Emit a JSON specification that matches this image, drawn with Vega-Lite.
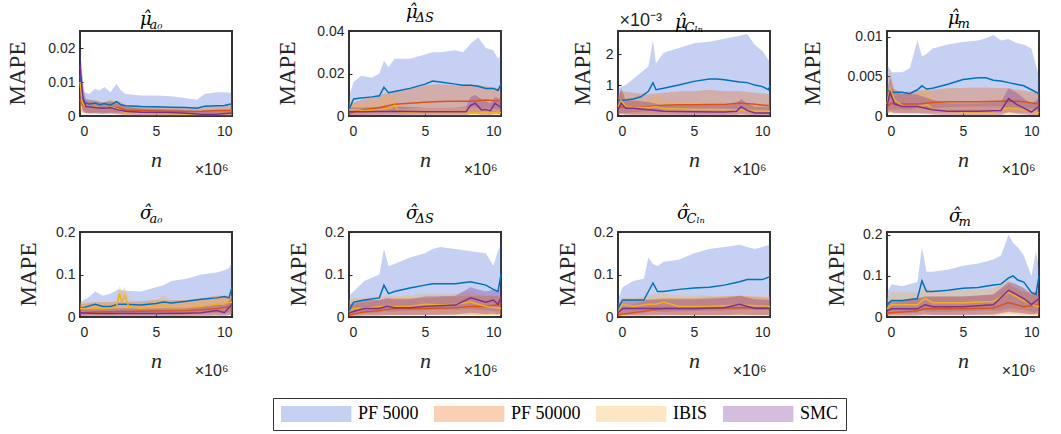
{
  "$schema": "https://vega.github.io/schema/vega-lite/v6.json",
  "background": "white",
  "padding": {"left": 5, "top": 3, "right": 5, "bottom": 3},
  "bounds": "flush",
  "columns": 4,
  "spacing": {"row": 116, "column": 117},
  "data": {"values": [
    {"p":1,"s":"PF 5000","x":0,"y":0.012,"lo":0.004,"hi":0.020},
    {"p":1,"s":"PF 5000","x":0.15,"y":0.006,"lo":0.002,"hi":0.012},
    {"p":1,"s":"PF 5000","x":0.3,"y":0.004,"lo":0.001,"hi":0.007},
    {"p":1,"s":"PF 5000","x":0.6,"y":0.0035,"lo":0.0008,"hi":0.0065},
    {"p":1,"s":"PF 5000","x":1,"y":0.0038,"lo":0.001,"hi":0.008},
    {"p":1,"s":"PF 5000","x":1.3,"y":0.0033,"lo":0.001,"hi":0.0075},
    {"p":1,"s":"PF 5000","x":1.6,"y":0.0037,"lo":0.001,"hi":0.0085},
    {"p":1,"s":"PF 5000","x":2,"y":0.0032,"lo":0.001,"hi":0.007},
    {"p":1,"s":"PF 5000","x":2.4,"y":0.0042,"lo":0.001,"hi":0.0095},
    {"p":1,"s":"PF 5000","x":2.7,"y":0.0033,"lo":0.001,"hi":0.0075},
    {"p":1,"s":"PF 5000","x":3,"y":0.003,"lo":0.001,"hi":0.0065},
    {"p":1,"s":"PF 5000","x":4,"y":0.0028,"lo":0.0008,"hi":0.006},
    {"p":1,"s":"PF 5000","x":5,"y":0.0027,"lo":0.0008,"hi":0.006},
    {"p":1,"s":"PF 5000","x":6,"y":0.0026,"lo":0.0008,"hi":0.0058},
    {"p":1,"s":"PF 5000","x":7,"y":0.0025,"lo":0.0006,"hi":0.0052},
    {"p":1,"s":"PF 5000","x":7.7,"y":0.0023,"lo":0.0005,"hi":0.0048},
    {"p":1,"s":"PF 5000","x":8.2,"y":0.0029,"lo":0.0007,"hi":0.0065},
    {"p":1,"s":"PF 5000","x":9,"y":0.003,"lo":0.0008,"hi":0.007},
    {"p":1,"s":"PF 5000","x":9.5,"y":0.0031,"lo":0.0008,"hi":0.007},
    {"p":1,"s":"PF 5000","x":10,"y":0.0036,"lo":0.001,"hi":0.0068},
    {"p":1,"s":"PF 50000","x":0,"y":0.005,"lo":0.001,"hi":0.012},
    {"p":1,"s":"PF 50000","x":0.15,"y":0.0035,"lo":0.001,"hi":0.006},
    {"p":1,"s":"PF 50000","x":0.3,"y":0.0028,"lo":0.0008,"hi":0.0045},
    {"p":1,"s":"PF 50000","x":1,"y":0.0025,"lo":0.0008,"hi":0.004},
    {"p":1,"s":"PF 50000","x":2,"y":0.0024,"lo":0.0007,"hi":0.004},
    {"p":1,"s":"PF 50000","x":2.5,"y":0.0026,"lo":0.0008,"hi":0.0045},
    {"p":1,"s":"PF 50000","x":3,"y":0.0018,"lo":0.0005,"hi":0.0033},
    {"p":1,"s":"PF 50000","x":5,"y":0.0015,"lo":0.0004,"hi":0.0028},
    {"p":1,"s":"PF 50000","x":7,"y":0.0013,"lo":0.0004,"hi":0.0026},
    {"p":1,"s":"PF 50000","x":8,"y":0.0014,"lo":0.0004,"hi":0.0028},
    {"p":1,"s":"PF 50000","x":9,"y":0.0016,"lo":0.0004,"hi":0.003},
    {"p":1,"s":"PF 50000","x":10,"y":0.0017,"lo":0.0005,"hi":0.0032},
    {"p":1,"s":"IBIS","x":0,"y":0.010,"lo":0.002,"hi":0.014},
    {"p":1,"s":"IBIS","x":0.15,"y":0.004,"lo":0.001,"hi":0.006},
    {"p":1,"s":"IBIS","x":0.3,"y":0.003,"lo":0.0008,"hi":0.005},
    {"p":1,"s":"IBIS","x":0.6,"y":0.0025,"lo":0.0007,"hi":0.0045},
    {"p":1,"s":"IBIS","x":1,"y":0.0028,"lo":0.0008,"hi":0.005},
    {"p":1,"s":"IBIS","x":1.5,"y":0.002,"lo":0.0006,"hi":0.004},
    {"p":1,"s":"IBIS","x":2,"y":0.0027,"lo":0.0008,"hi":0.005},
    {"p":1,"s":"IBIS","x":2.5,"y":0.002,"lo":0.0005,"hi":0.0042},
    {"p":1,"s":"IBIS","x":3,"y":0.0009,"lo":0.0002,"hi":0.0025},
    {"p":1,"s":"IBIS","x":5,"y":0.0007,"lo":0.0001,"hi":0.002},
    {"p":1,"s":"IBIS","x":7,"y":0.0006,"lo":0.0001,"hi":0.0018},
    {"p":1,"s":"IBIS","x":9,"y":0.0006,"lo":0.0001,"hi":0.0018},
    {"p":1,"s":"IBIS","x":10,"y":0.0007,"lo":0.0001,"hi":0.002},
    {"p":1,"s":"SMC","x":0,"y":0.015,"lo":0.004,"hi":0.020},
    {"p":1,"s":"SMC","x":0.1,"y":0.01,"lo":0.003,"hi":0.015},
    {"p":1,"s":"SMC","x":0.2,"y":0.005,"lo":0.0015,"hi":0.008},
    {"p":1,"s":"SMC","x":0.4,"y":0.0028,"lo":0.0008,"hi":0.005},
    {"p":1,"s":"SMC","x":1,"y":0.0025,"lo":0.0007,"hi":0.0045},
    {"p":1,"s":"SMC","x":1.5,"y":0.0022,"lo":0.0006,"hi":0.004},
    {"p":1,"s":"SMC","x":2,"y":0.0025,"lo":0.0007,"hi":0.0045},
    {"p":1,"s":"SMC","x":2.5,"y":0.0018,"lo":0.0005,"hi":0.0035},
    {"p":1,"s":"SMC","x":3,"y":0.0014,"lo":0.0004,"hi":0.0028},
    {"p":1,"s":"SMC","x":4,"y":0.0011,"lo":0.0003,"hi":0.0022},
    {"p":1,"s":"SMC","x":6,"y":0.001,"lo":0.0003,"hi":0.002},
    {"p":1,"s":"SMC","x":7,"y":0.0008,"lo":0.0002,"hi":0.0018},
    {"p":1,"s":"SMC","x":8,"y":0.0005,"lo":0.0001,"hi":0.0015},
    {"p":1,"s":"SMC","x":9,"y":0.0005,"lo":0.0001,"hi":0.0015},
    {"p":1,"s":"SMC","x":10,"y":0.0009,"lo":0.0002,"hi":0.0018},

    {"p":2,"s":"PF 5000","x":0,"y":0.003,"lo":0.0005,"hi":0.009},
    {"p":2,"s":"PF 5000","x":0.3,"y":0.008,"lo":0.002,"hi":0.016},
    {"p":2,"s":"PF 5000","x":0.8,"y":0.0085,"lo":0.002,"hi":0.019},
    {"p":2,"s":"PF 5000","x":1.5,"y":0.009,"lo":0.002,"hi":0.018},
    {"p":2,"s":"PF 5000","x":2,"y":0.0095,"lo":0.0025,"hi":0.020},
    {"p":2,"s":"PF 5000","x":2.3,"y":0.0135,"lo":0.003,"hi":0.026},
    {"p":2,"s":"PF 5000","x":2.6,"y":0.011,"lo":0.003,"hi":0.023},
    {"p":2,"s":"PF 5000","x":3,"y":0.0115,"lo":0.003,"hi":0.027},
    {"p":2,"s":"PF 5000","x":4,"y":0.013,"lo":0.0035,"hi":0.027},
    {"p":2,"s":"PF 5000","x":5,"y":0.015,"lo":0.004,"hi":0.029},
    {"p":2,"s":"PF 5000","x":5.5,"y":0.0165,"lo":0.004,"hi":0.030},
    {"p":2,"s":"PF 5000","x":6,"y":0.016,"lo":0.004,"hi":0.030},
    {"p":2,"s":"PF 5000","x":7,"y":0.015,"lo":0.004,"hi":0.031},
    {"p":2,"s":"PF 5000","x":7.5,"y":0.0145,"lo":0.004,"hi":0.030},
    {"p":2,"s":"PF 5000","x":8,"y":0.0145,"lo":0.004,"hi":0.034},
    {"p":2,"s":"PF 5000","x":8.5,"y":0.014,"lo":0.004,"hi":0.037},
    {"p":2,"s":"PF 5000","x":9,"y":0.013,"lo":0.0035,"hi":0.032},
    {"p":2,"s":"PF 5000","x":9.5,"y":0.013,"lo":0.0035,"hi":0.031},
    {"p":2,"s":"PF 5000","x":9.8,"y":0.012,"lo":0.003,"hi":0.027},
    {"p":2,"s":"PF 5000","x":10,"y":0.015,"lo":0.004,"hi":0.029},
    {"p":2,"s":"PF 50000","x":0,"y":0.001,"lo":0.0002,"hi":0.005},
    {"p":2,"s":"PF 50000","x":0.5,"y":0.0025,"lo":0.0005,"hi":0.007},
    {"p":2,"s":"PF 50000","x":1,"y":0.003,"lo":0.0005,"hi":0.008},
    {"p":2,"s":"PF 50000","x":2,"y":0.004,"lo":0.0008,"hi":0.010},
    {"p":2,"s":"PF 50000","x":3,"y":0.0055,"lo":0.001,"hi":0.012},
    {"p":2,"s":"PF 50000","x":4,"y":0.006,"lo":0.001,"hi":0.013},
    {"p":2,"s":"PF 50000","x":5,"y":0.0065,"lo":0.0012,"hi":0.0145},
    {"p":2,"s":"PF 50000","x":6,"y":0.0068,"lo":0.0012,"hi":0.015},
    {"p":2,"s":"PF 50000","x":7,"y":0.007,"lo":0.0012,"hi":0.0145},
    {"p":2,"s":"PF 50000","x":8,"y":0.007,"lo":0.0012,"hi":0.015},
    {"p":2,"s":"PF 50000","x":9,"y":0.0075,"lo":0.0012,"hi":0.014},
    {"p":2,"s":"PF 50000","x":10,"y":0.007,"lo":0.0012,"hi":0.013},
    {"p":2,"s":"IBIS","x":0,"y":0.003,"lo":0.0005,"hi":0.007},
    {"p":2,"s":"IBIS","x":0.5,"y":0.003,"lo":0.0005,"hi":0.006},
    {"p":2,"s":"IBIS","x":1,"y":0.0025,"lo":0.0004,"hi":0.006},
    {"p":2,"s":"IBIS","x":2,"y":0.003,"lo":0.0005,"hi":0.007},
    {"p":2,"s":"IBIS","x":2.5,"y":0.0035,"lo":0.0005,"hi":0.011},
    {"p":2,"s":"IBIS","x":2.8,"y":0.004,"lo":0.0006,"hi":0.008},
    {"p":2,"s":"IBIS","x":3,"y":0.005,"lo":0.0008,"hi":0.010},
    {"p":2,"s":"IBIS","x":3.3,"y":0.002,"lo":0.0003,"hi":0.005},
    {"p":2,"s":"IBIS","x":4,"y":0.0015,"lo":0.0002,"hi":0.004},
    {"p":2,"s":"IBIS","x":6,"y":0.0015,"lo":0.0002,"hi":0.004},
    {"p":2,"s":"IBIS","x":8,"y":0.0015,"lo":0.0002,"hi":0.0045},
    {"p":2,"s":"IBIS","x":10,"y":0.0015,"lo":0.0002,"hi":0.004},
    {"p":2,"s":"SMC","x":0,"y":0.002,"lo":0.0003,"hi":0.004},
    {"p":2,"s":"SMC","x":1,"y":0.002,"lo":0.0004,"hi":0.004},
    {"p":2,"s":"SMC","x":3,"y":0.0022,"lo":0.0004,"hi":0.0045},
    {"p":2,"s":"SMC","x":5,"y":0.002,"lo":0.0004,"hi":0.004},
    {"p":2,"s":"SMC","x":7,"y":0.002,"lo":0.0004,"hi":0.004},
    {"p":2,"s":"SMC","x":7.7,"y":0.002,"lo":0.0004,"hi":0.0045},
    {"p":2,"s":"SMC","x":8,"y":0.005,"lo":0.001,"hi":0.009},
    {"p":2,"s":"SMC","x":8.3,"y":0.006,"lo":0.0012,"hi":0.010},
    {"p":2,"s":"SMC","x":8.7,"y":0.003,"lo":0.0006,"hi":0.008},
    {"p":2,"s":"SMC","x":9,"y":0.003,"lo":0.0006,"hi":0.007},
    {"p":2,"s":"SMC","x":9.3,"y":0.0025,"lo":0.0005,"hi":0.006},
    {"p":2,"s":"SMC","x":9.6,"y":0.006,"lo":0.001,"hi":0.009},
    {"p":2,"s":"SMC","x":10,"y":0.004,"lo":0.0008,"hi":0.008},

    {"p":3,"s":"PF 5000","x":0,"y":0.5,"lo":0.1,"hi":0.9},
    {"p":3,"s":"PF 5000","x":0.5,"y":0.52,"lo":0.1,"hi":1.0},
    {"p":3,"s":"PF 5000","x":1,"y":0.55,"lo":0.12,"hi":1.2},
    {"p":3,"s":"PF 5000","x":1.5,"y":0.62,"lo":0.13,"hi":1.4},
    {"p":3,"s":"PF 5000","x":2,"y":0.8,"lo":0.15,"hi":1.6},
    {"p":3,"s":"PF 5000","x":2.3,"y":1.08,"lo":0.2,"hi":2.45},
    {"p":3,"s":"PF 5000","x":2.5,"y":0.85,"lo":0.18,"hi":1.7},
    {"p":3,"s":"PF 5000","x":3,"y":0.9,"lo":0.2,"hi":2.05},
    {"p":3,"s":"PF 5000","x":4,"y":1.0,"lo":0.2,"hi":2.2},
    {"p":3,"s":"PF 5000","x":5,"y":1.12,"lo":0.22,"hi":2.35},
    {"p":3,"s":"PF 5000","x":6,"y":1.2,"lo":0.24,"hi":2.4},
    {"p":3,"s":"PF 5000","x":6.5,"y":1.2,"lo":0.24,"hi":2.45},
    {"p":3,"s":"PF 5000","x":7,"y":1.17,"lo":0.24,"hi":2.5},
    {"p":3,"s":"PF 5000","x":8,"y":1.1,"lo":0.22,"hi":2.6},
    {"p":3,"s":"PF 5000","x":8.5,"y":1.08,"lo":0.22,"hi":2.65},
    {"p":3,"s":"PF 5000","x":9,"y":1.0,"lo":0.2,"hi":2.3},
    {"p":3,"s":"PF 5000","x":9.5,"y":0.95,"lo":0.2,"hi":2.1},
    {"p":3,"s":"PF 5000","x":9.9,"y":0.85,"lo":0.18,"hi":1.8},
    {"p":3,"s":"PF 5000","x":10,"y":0.97,"lo":0.2,"hi":1.9},
    {"p":3,"s":"PF 50000","x":0,"y":0.25,"lo":0.05,"hi":0.7},
    {"p":3,"s":"PF 50000","x":0.2,"y":0.3,"lo":0.05,"hi":0.8},
    {"p":3,"s":"PF 50000","x":1,"y":0.28,"lo":0.05,"hi":0.75},
    {"p":3,"s":"PF 50000","x":2,"y":0.3,"lo":0.05,"hi":0.7},
    {"p":3,"s":"PF 50000","x":3,"y":0.35,"lo":0.06,"hi":0.75},
    {"p":3,"s":"PF 50000","x":4,"y":0.36,"lo":0.06,"hi":0.8},
    {"p":3,"s":"PF 50000","x":5,"y":0.36,"lo":0.06,"hi":0.8},
    {"p":3,"s":"PF 50000","x":6,"y":0.37,"lo":0.06,"hi":0.85},
    {"p":3,"s":"PF 50000","x":7,"y":0.37,"lo":0.06,"hi":0.8},
    {"p":3,"s":"PF 50000","x":8,"y":0.42,"lo":0.07,"hi":0.8},
    {"p":3,"s":"PF 50000","x":9,"y":0.38,"lo":0.06,"hi":0.75},
    {"p":3,"s":"PF 50000","x":10,"y":0.33,"lo":0.05,"hi":0.7},
    {"p":3,"s":"IBIS","x":0,"y":0.3,"lo":0.05,"hi":0.6},
    {"p":3,"s":"IBIS","x":0.2,"y":0.5,"lo":0.1,"hi":0.9},
    {"p":3,"s":"IBIS","x":0.5,"y":0.3,"lo":0.05,"hi":0.55},
    {"p":3,"s":"IBIS","x":1,"y":0.28,"lo":0.05,"hi":0.5},
    {"p":3,"s":"IBIS","x":2,"y":0.27,"lo":0.04,"hi":0.5},
    {"p":3,"s":"IBIS","x":2.5,"y":0.3,"lo":0.05,"hi":0.7},
    {"p":3,"s":"IBIS","x":3,"y":0.24,"lo":0.04,"hi":0.5},
    {"p":3,"s":"IBIS","x":5,"y":0.22,"lo":0.03,"hi":0.45},
    {"p":3,"s":"IBIS","x":7,"y":0.2,"lo":0.03,"hi":0.4},
    {"p":3,"s":"IBIS","x":8,"y":0.2,"lo":0.03,"hi":0.45},
    {"p":3,"s":"IBIS","x":9,"y":0.16,"lo":0.03,"hi":0.35},
    {"p":3,"s":"IBIS","x":10,"y":0.15,"lo":0.02,"hi":0.3},
    {"p":3,"s":"SMC","x":0,"y":0.2,"lo":0.03,"hi":0.5},
    {"p":3,"s":"SMC","x":0.2,"y":0.42,"lo":0.08,"hi":0.9},
    {"p":3,"s":"SMC","x":0.5,"y":0.25,"lo":0.05,"hi":0.5},
    {"p":3,"s":"SMC","x":1,"y":0.25,"lo":0.04,"hi":0.5},
    {"p":3,"s":"SMC","x":2,"y":0.2,"lo":0.04,"hi":0.45},
    {"p":3,"s":"SMC","x":2.5,"y":0.18,"lo":0.03,"hi":0.4},
    {"p":3,"s":"SMC","x":3,"y":0.15,"lo":0.03,"hi":0.35},
    {"p":3,"s":"SMC","x":5,"y":0.14,"lo":0.03,"hi":0.35},
    {"p":3,"s":"SMC","x":7,"y":0.13,"lo":0.02,"hi":0.35},
    {"p":3,"s":"SMC","x":7.8,"y":0.15,"lo":0.03,"hi":0.4},
    {"p":3,"s":"SMC","x":8.1,"y":0.3,"lo":0.06,"hi":0.55},
    {"p":3,"s":"SMC","x":8.5,"y":0.18,"lo":0.03,"hi":0.4},
    {"p":3,"s":"SMC","x":9,"y":0.1,"lo":0.02,"hi":0.3},
    {"p":3,"s":"SMC","x":10,"y":0.1,"lo":0.02,"hi":0.3},

    {"p":4,"s":"PF 5000","x":0,"y":0.0032,"lo":0.0008,"hi":0.0065},
    {"p":4,"s":"PF 5000","x":0.3,"y":0.003,"lo":0.0008,"hi":0.0055},
    {"p":4,"s":"PF 5000","x":1,"y":0.003,"lo":0.0008,"hi":0.0055},
    {"p":4,"s":"PF 5000","x":1.5,"y":0.0028,"lo":0.0008,"hi":0.006},
    {"p":4,"s":"PF 5000","x":2,"y":0.0033,"lo":0.001,"hi":0.0095},
    {"p":4,"s":"PF 5000","x":2.3,"y":0.0038,"lo":0.001,"hi":0.0075},
    {"p":4,"s":"PF 5000","x":2.6,"y":0.0034,"lo":0.001,"hi":0.0078},
    {"p":4,"s":"PF 5000","x":3,"y":0.0035,"lo":0.001,"hi":0.0085},
    {"p":4,"s":"PF 5000","x":4,"y":0.004,"lo":0.0011,"hi":0.009},
    {"p":4,"s":"PF 5000","x":5,"y":0.0046,"lo":0.0012,"hi":0.0093},
    {"p":4,"s":"PF 5000","x":6,"y":0.0048,"lo":0.0012,"hi":0.0095},
    {"p":4,"s":"PF 5000","x":6.5,"y":0.0048,"lo":0.0012,"hi":0.0098},
    {"p":4,"s":"PF 5000","x":7,"y":0.0045,"lo":0.0012,"hi":0.0102},
    {"p":4,"s":"PF 5000","x":7.5,"y":0.0044,"lo":0.0012,"hi":0.0095},
    {"p":4,"s":"PF 5000","x":8,"y":0.0042,"lo":0.0011,"hi":0.0097},
    {"p":4,"s":"PF 5000","x":8.5,"y":0.004,"lo":0.0011,"hi":0.0092},
    {"p":4,"s":"PF 5000","x":9,"y":0.0038,"lo":0.001,"hi":0.009},
    {"p":4,"s":"PF 5000","x":9.5,"y":0.0033,"lo":0.0009,"hi":0.0085},
    {"p":4,"s":"PF 5000","x":10,"y":0.0028,"lo":0.0008,"hi":0.005},
    {"p":4,"s":"PF 50000","x":0,"y":0.0012,"lo":0.0003,"hi":0.0033},
    {"p":4,"s":"PF 50000","x":0.3,"y":0.0016,"lo":0.0004,"hi":0.0035},
    {"p":4,"s":"PF 50000","x":1,"y":0.0015,"lo":0.0004,"hi":0.003},
    {"p":4,"s":"PF 50000","x":2,"y":0.0015,"lo":0.0004,"hi":0.0032},
    {"p":4,"s":"PF 50000","x":3,"y":0.0017,"lo":0.0004,"hi":0.0033},
    {"p":4,"s":"PF 50000","x":4,"y":0.0018,"lo":0.0004,"hi":0.0035},
    {"p":4,"s":"PF 50000","x":6,"y":0.0018,"lo":0.0004,"hi":0.0036},
    {"p":4,"s":"PF 50000","x":8,"y":0.0019,"lo":0.0004,"hi":0.0035},
    {"p":4,"s":"PF 50000","x":9,"y":0.0018,"lo":0.0004,"hi":0.0032},
    {"p":4,"s":"PF 50000","x":10,"y":0.0015,"lo":0.0004,"hi":0.0028},
    {"p":4,"s":"IBIS","x":0,"y":0.0015,"lo":0.0003,"hi":0.003},
    {"p":4,"s":"IBIS","x":0.2,"y":0.0035,"lo":0.0006,"hi":0.006},
    {"p":4,"s":"IBIS","x":0.5,"y":0.002,"lo":0.0004,"hi":0.0035},
    {"p":4,"s":"IBIS","x":1,"y":0.0013,"lo":0.0003,"hi":0.0028},
    {"p":4,"s":"IBIS","x":2,"y":0.0012,"lo":0.0003,"hi":0.0028},
    {"p":4,"s":"IBIS","x":2.7,"y":0.0014,"lo":0.0003,"hi":0.0035},
    {"p":4,"s":"IBIS","x":3,"y":0.0008,"lo":0.0002,"hi":0.002},
    {"p":4,"s":"IBIS","x":5,"y":0.0005,"lo":0.0001,"hi":0.0015},
    {"p":4,"s":"IBIS","x":7,"y":0.0005,"lo":0.0001,"hi":0.0015},
    {"p":4,"s":"IBIS","x":8,"y":0.001,"lo":0.0002,"hi":0.0022},
    {"p":4,"s":"IBIS","x":9,"y":0.0008,"lo":0.0002,"hi":0.0018},
    {"p":4,"s":"IBIS","x":10,"y":0.0004,"lo":0.0001,"hi":0.0012},
    {"p":4,"s":"SMC","x":0,"y":0.0012,"lo":0.0003,"hi":0.003},
    {"p":4,"s":"SMC","x":0.2,"y":0.003,"lo":0.0006,"hi":0.005},
    {"p":4,"s":"SMC","x":0.5,"y":0.0015,"lo":0.0003,"hi":0.003},
    {"p":4,"s":"SMC","x":1,"y":0.0012,"lo":0.0003,"hi":0.0028},
    {"p":4,"s":"SMC","x":2,"y":0.0012,"lo":0.0003,"hi":0.0027},
    {"p":4,"s":"SMC","x":3,"y":0.0008,"lo":0.0002,"hi":0.002},
    {"p":4,"s":"SMC","x":4,"y":0.0006,"lo":0.0001,"hi":0.0016},
    {"p":4,"s":"SMC","x":6,"y":0.0006,"lo":0.0001,"hi":0.0016},
    {"p":4,"s":"SMC","x":7.5,"y":0.0007,"lo":0.0001,"hi":0.0018},
    {"p":4,"s":"SMC","x":8,"y":0.0022,"lo":0.0005,"hi":0.0035},
    {"p":4,"s":"SMC","x":8.5,"y":0.0015,"lo":0.0003,"hi":0.003},
    {"p":4,"s":"SMC","x":9,"y":0.001,"lo":0.0002,"hi":0.0022},
    {"p":4,"s":"SMC","x":9.5,"y":0.0005,"lo":0.0001,"hi":0.0015},
    {"p":4,"s":"SMC","x":10,"y":0.0012,"lo":0.0002,"hi":0.0022},

    {"p":5,"s":"PF 5000","x":0,"y":0.02,"lo":0.005,"hi":0.035},
    {"p":5,"s":"PF 5000","x":0.5,"y":0.025,"lo":0.006,"hi":0.045},
    {"p":5,"s":"PF 5000","x":1,"y":0.03,"lo":0.008,"hi":0.06},
    {"p":5,"s":"PF 5000","x":1.5,"y":0.025,"lo":0.006,"hi":0.05},
    {"p":5,"s":"PF 5000","x":2,"y":0.025,"lo":0.006,"hi":0.055},
    {"p":5,"s":"PF 5000","x":2.5,"y":0.03,"lo":0.007,"hi":0.065},
    {"p":5,"s":"PF 5000","x":3,"y":0.03,"lo":0.007,"hi":0.062},
    {"p":5,"s":"PF 5000","x":4,"y":0.028,"lo":0.007,"hi":0.06},
    {"p":5,"s":"PF 5000","x":5,"y":0.032,"lo":0.008,"hi":0.07},
    {"p":5,"s":"PF 5000","x":5.5,"y":0.035,"lo":0.008,"hi":0.075},
    {"p":5,"s":"PF 5000","x":6,"y":0.033,"lo":0.008,"hi":0.085},
    {"p":5,"s":"PF 5000","x":7,"y":0.037,"lo":0.009,"hi":0.09},
    {"p":5,"s":"PF 5000","x":8,"y":0.042,"lo":0.01,"hi":0.1},
    {"p":5,"s":"PF 5000","x":9,"y":0.045,"lo":0.01,"hi":0.105},
    {"p":5,"s":"PF 5000","x":9.5,"y":0.048,"lo":0.011,"hi":0.11},
    {"p":5,"s":"PF 5000","x":9.8,"y":0.045,"lo":0.01,"hi":0.115},
    {"p":5,"s":"PF 5000","x":10,"y":0.07,"lo":0.015,"hi":0.13},
    {"p":5,"s":"PF 50000","x":0,"y":0.01,"lo":0.002,"hi":0.03},
    {"p":5,"s":"PF 50000","x":1,"y":0.012,"lo":0.003,"hi":0.035},
    {"p":5,"s":"PF 50000","x":3,"y":0.013,"lo":0.003,"hi":0.035},
    {"p":5,"s":"PF 50000","x":5,"y":0.014,"lo":0.003,"hi":0.04},
    {"p":5,"s":"PF 50000","x":7,"y":0.015,"lo":0.003,"hi":0.04},
    {"p":5,"s":"PF 50000","x":8,"y":0.017,"lo":0.004,"hi":0.045},
    {"p":5,"s":"PF 50000","x":9,"y":0.02,"lo":0.004,"hi":0.05},
    {"p":5,"s":"PF 50000","x":10,"y":0.025,"lo":0.005,"hi":0.05},
    {"p":5,"s":"IBIS","x":0,"y":0.02,"lo":0.005,"hi":0.035},
    {"p":5,"s":"IBIS","x":1,"y":0.02,"lo":0.005,"hi":0.035},
    {"p":5,"s":"IBIS","x":2,"y":0.02,"lo":0.005,"hi":0.035},
    {"p":5,"s":"IBIS","x":2.4,"y":0.025,"lo":0.006,"hi":0.04},
    {"p":5,"s":"IBIS","x":2.6,"y":0.055,"lo":0.015,"hi":0.075},
    {"p":5,"s":"IBIS","x":2.75,"y":0.035,"lo":0.01,"hi":0.06},
    {"p":5,"s":"IBIS","x":2.95,"y":0.05,"lo":0.015,"hi":0.072},
    {"p":5,"s":"IBIS","x":3.2,"y":0.025,"lo":0.006,"hi":0.04},
    {"p":5,"s":"IBIS","x":4,"y":0.02,"lo":0.005,"hi":0.035},
    {"p":5,"s":"IBIS","x":5,"y":0.025,"lo":0.006,"hi":0.04},
    {"p":5,"s":"IBIS","x":5.5,"y":0.03,"lo":0.008,"hi":0.05},
    {"p":5,"s":"IBIS","x":6,"y":0.022,"lo":0.005,"hi":0.038},
    {"p":5,"s":"IBIS","x":7,"y":0.022,"lo":0.005,"hi":0.038},
    {"p":5,"s":"IBIS","x":8,"y":0.025,"lo":0.006,"hi":0.042},
    {"p":5,"s":"IBIS","x":9,"y":0.03,"lo":0.007,"hi":0.048},
    {"p":5,"s":"IBIS","x":10,"y":0.035,"lo":0.008,"hi":0.05},
    {"p":5,"s":"SMC","x":0,"y":0.01,"lo":0.002,"hi":0.025},
    {"p":5,"s":"SMC","x":1,"y":0.008,"lo":0.002,"hi":0.02},
    {"p":5,"s":"SMC","x":3,"y":0.008,"lo":0.002,"hi":0.02},
    {"p":5,"s":"SMC","x":5,"y":0.008,"lo":0.002,"hi":0.02},
    {"p":5,"s":"SMC","x":7,"y":0.009,"lo":0.002,"hi":0.022},
    {"p":5,"s":"SMC","x":8,"y":0.01,"lo":0.002,"hi":0.025},
    {"p":5,"s":"SMC","x":9,"y":0.015,"lo":0.003,"hi":0.03},
    {"p":5,"s":"SMC","x":9.5,"y":0.01,"lo":0.002,"hi":0.028},
    {"p":5,"s":"SMC","x":10,"y":0.03,"lo":0.006,"hi":0.045},

    {"p":6,"s":"PF 5000","x":0,"y":0.015,"lo":0.004,"hi":0.05},
    {"p":6,"s":"PF 5000","x":0.3,"y":0.035,"lo":0.008,"hi":0.06},
    {"p":6,"s":"PF 5000","x":1,"y":0.04,"lo":0.01,"hi":0.085},
    {"p":6,"s":"PF 5000","x":2,"y":0.045,"lo":0.01,"hi":0.1},
    {"p":6,"s":"PF 5000","x":2.3,"y":0.075,"lo":0.015,"hi":0.16},
    {"p":6,"s":"PF 5000","x":2.6,"y":0.055,"lo":0.012,"hi":0.12},
    {"p":6,"s":"PF 5000","x":3,"y":0.06,"lo":0.013,"hi":0.125},
    {"p":6,"s":"PF 5000","x":4,"y":0.068,"lo":0.015,"hi":0.14},
    {"p":6,"s":"PF 5000","x":5,"y":0.075,"lo":0.016,"hi":0.15},
    {"p":6,"s":"PF 5000","x":5.5,"y":0.078,"lo":0.017,"hi":0.16},
    {"p":6,"s":"PF 5000","x":6,"y":0.078,"lo":0.017,"hi":0.165},
    {"p":6,"s":"PF 5000","x":7,"y":0.078,"lo":0.017,"hi":0.16},
    {"p":6,"s":"PF 5000","x":8,"y":0.083,"lo":0.018,"hi":0.155},
    {"p":6,"s":"PF 5000","x":9,"y":0.075,"lo":0.016,"hi":0.15},
    {"p":6,"s":"PF 5000","x":9.5,"y":0.065,"lo":0.014,"hi":0.12},
    {"p":6,"s":"PF 5000","x":9.8,"y":0.06,"lo":0.013,"hi":0.155},
    {"p":6,"s":"PF 5000","x":10,"y":0.1,"lo":0.02,"hi":0.17},
    {"p":6,"s":"PF 50000","x":0,"y":0.005,"lo":0.001,"hi":0.03},
    {"p":6,"s":"PF 50000","x":1,"y":0.012,"lo":0.003,"hi":0.035},
    {"p":6,"s":"PF 50000","x":2,"y":0.015,"lo":0.003,"hi":0.04},
    {"p":6,"s":"PF 50000","x":3,"y":0.02,"lo":0.004,"hi":0.045},
    {"p":6,"s":"PF 50000","x":5,"y":0.02,"lo":0.004,"hi":0.045},
    {"p":6,"s":"PF 50000","x":7,"y":0.022,"lo":0.005,"hi":0.048},
    {"p":6,"s":"PF 50000","x":8,"y":0.025,"lo":0.005,"hi":0.05},
    {"p":6,"s":"PF 50000","x":9,"y":0.025,"lo":0.005,"hi":0.05},
    {"p":6,"s":"PF 50000","x":10,"y":0.03,"lo":0.006,"hi":0.05},
    {"p":6,"s":"IBIS","x":0,"y":0.01,"lo":0.002,"hi":0.04},
    {"p":6,"s":"IBIS","x":0.3,"y":0.02,"lo":0.004,"hi":0.045},
    {"p":6,"s":"IBIS","x":1,"y":0.02,"lo":0.004,"hi":0.045},
    {"p":6,"s":"IBIS","x":2,"y":0.025,"lo":0.005,"hi":0.05},
    {"p":6,"s":"IBIS","x":3,"y":0.025,"lo":0.005,"hi":0.05},
    {"p":6,"s":"IBIS","x":4,"y":0.025,"lo":0.005,"hi":0.05},
    {"p":6,"s":"IBIS","x":5,"y":0.03,"lo":0.006,"hi":0.055},
    {"p":6,"s":"IBIS","x":6,"y":0.028,"lo":0.006,"hi":0.055},
    {"p":6,"s":"IBIS","x":7,"y":0.03,"lo":0.006,"hi":0.055},
    {"p":6,"s":"IBIS","x":8,"y":0.035,"lo":0.007,"hi":0.06},
    {"p":6,"s":"IBIS","x":9,"y":0.025,"lo":0.005,"hi":0.05},
    {"p":6,"s":"IBIS","x":10,"y":0.02,"lo":0.004,"hi":0.045},
    {"p":6,"s":"SMC","x":0,"y":0.01,"lo":0.002,"hi":0.03},
    {"p":6,"s":"SMC","x":1,"y":0.02,"lo":0.004,"hi":0.04},
    {"p":6,"s":"SMC","x":2,"y":0.02,"lo":0.004,"hi":0.04},
    {"p":6,"s":"SMC","x":2.5,"y":0.025,"lo":0.005,"hi":0.045},
    {"p":6,"s":"SMC","x":3,"y":0.022,"lo":0.005,"hi":0.042},
    {"p":6,"s":"SMC","x":4,"y":0.022,"lo":0.005,"hi":0.042},
    {"p":6,"s":"SMC","x":5,"y":0.025,"lo":0.005,"hi":0.048},
    {"p":6,"s":"SMC","x":7,"y":0.028,"lo":0.006,"hi":0.05},
    {"p":6,"s":"SMC","x":8,"y":0.045,"lo":0.01,"hi":0.07},
    {"p":6,"s":"SMC","x":8.5,"y":0.04,"lo":0.009,"hi":0.065},
    {"p":6,"s":"SMC","x":9,"y":0.035,"lo":0.007,"hi":0.06},
    {"p":6,"s":"SMC","x":9.5,"y":0.04,"lo":0.008,"hi":0.065},
    {"p":6,"s":"SMC","x":9.8,"y":0.03,"lo":0.006,"hi":0.06},
    {"p":6,"s":"SMC","x":10,"y":0.045,"lo":0.009,"hi":0.07},

    {"p":7,"s":"PF 5000","x":0,"y":0.02,"lo":0.005,"hi":0.04},
    {"p":7,"s":"PF 5000","x":0.3,"y":0.04,"lo":0.008,"hi":0.07},
    {"p":7,"s":"PF 5000","x":1,"y":0.04,"lo":0.009,"hi":0.085},
    {"p":7,"s":"PF 5000","x":1.7,"y":0.04,"lo":0.009,"hi":0.09},
    {"p":7,"s":"PF 5000","x":2,"y":0.06,"lo":0.012,"hi":0.14},
    {"p":7,"s":"PF 5000","x":2.3,"y":0.08,"lo":0.015,"hi":0.125},
    {"p":7,"s":"PF 5000","x":2.6,"y":0.06,"lo":0.012,"hi":0.12},
    {"p":7,"s":"PF 5000","x":3,"y":0.06,"lo":0.012,"hi":0.13},
    {"p":7,"s":"PF 5000","x":4,"y":0.065,"lo":0.013,"hi":0.135},
    {"p":7,"s":"PF 5000","x":5,"y":0.068,"lo":0.014,"hi":0.15},
    {"p":7,"s":"PF 5000","x":6,"y":0.07,"lo":0.014,"hi":0.16},
    {"p":7,"s":"PF 5000","x":7,"y":0.075,"lo":0.015,"hi":0.165},
    {"p":7,"s":"PF 5000","x":8,"y":0.083,"lo":0.017,"hi":0.17},
    {"p":7,"s":"PF 5000","x":8.5,"y":0.088,"lo":0.017,"hi":0.165},
    {"p":7,"s":"PF 5000","x":9,"y":0.088,"lo":0.017,"hi":0.16},
    {"p":7,"s":"PF 5000","x":9.5,"y":0.088,"lo":0.017,"hi":0.165},
    {"p":7,"s":"PF 5000","x":10,"y":0.095,"lo":0.018,"hi":0.17},
    {"p":7,"s":"PF 50000","x":0,"y":0.005,"lo":0.001,"hi":0.02},
    {"p":7,"s":"PF 50000","x":1,"y":0.01,"lo":0.002,"hi":0.03},
    {"p":7,"s":"PF 50000","x":2,"y":0.015,"lo":0.003,"hi":0.04},
    {"p":7,"s":"PF 50000","x":3,"y":0.02,"lo":0.004,"hi":0.045},
    {"p":7,"s":"PF 50000","x":5,"y":0.02,"lo":0.004,"hi":0.045},
    {"p":7,"s":"PF 50000","x":7,"y":0.021,"lo":0.004,"hi":0.048},
    {"p":7,"s":"PF 50000","x":8,"y":0.022,"lo":0.004,"hi":0.05},
    {"p":7,"s":"PF 50000","x":10,"y":0.022,"lo":0.004,"hi":0.045},
    {"p":7,"s":"IBIS","x":0,"y":0.01,"lo":0.002,"hi":0.03},
    {"p":7,"s":"IBIS","x":0.3,"y":0.03,"lo":0.006,"hi":0.045},
    {"p":7,"s":"IBIS","x":1,"y":0.025,"lo":0.005,"hi":0.045},
    {"p":7,"s":"IBIS","x":2,"y":0.03,"lo":0.006,"hi":0.05},
    {"p":7,"s":"IBIS","x":2.5,"y":0.03,"lo":0.006,"hi":0.055},
    {"p":7,"s":"IBIS","x":3,"y":0.035,"lo":0.007,"hi":0.055},
    {"p":7,"s":"IBIS","x":4,"y":0.025,"lo":0.005,"hi":0.05},
    {"p":7,"s":"IBIS","x":6,"y":0.025,"lo":0.005,"hi":0.05},
    {"p":7,"s":"IBIS","x":8,"y":0.028,"lo":0.005,"hi":0.05},
    {"p":7,"s":"IBIS","x":10,"y":0.025,"lo":0.005,"hi":0.048},
    {"p":7,"s":"SMC","x":0,"y":0.01,"lo":0.002,"hi":0.03},
    {"p":7,"s":"SMC","x":0.3,"y":0.02,"lo":0.004,"hi":0.04},
    {"p":7,"s":"SMC","x":1,"y":0.02,"lo":0.004,"hi":0.04},
    {"p":7,"s":"SMC","x":3,"y":0.02,"lo":0.004,"hi":0.042},
    {"p":7,"s":"SMC","x":5,"y":0.02,"lo":0.004,"hi":0.042},
    {"p":7,"s":"SMC","x":7,"y":0.022,"lo":0.004,"hi":0.045},
    {"p":7,"s":"SMC","x":8,"y":0.03,"lo":0.006,"hi":0.05},
    {"p":7,"s":"SMC","x":9,"y":0.02,"lo":0.004,"hi":0.042},
    {"p":7,"s":"SMC","x":10,"y":0.02,"lo":0.004,"hi":0.04},

    {"p":8,"s":"PF 5000","x":0,"y":0.03,"lo":0.007,"hi":0.06},
    {"p":8,"s":"PF 5000","x":0.3,"y":0.04,"lo":0.009,"hi":0.08},
    {"p":8,"s":"PF 5000","x":1,"y":0.04,"lo":0.009,"hi":0.075},
    {"p":8,"s":"PF 5000","x":2,"y":0.045,"lo":0.01,"hi":0.085},
    {"p":8,"s":"PF 5000","x":2.3,"y":0.088,"lo":0.018,"hi":0.17},
    {"p":8,"s":"PF 5000","x":2.6,"y":0.062,"lo":0.013,"hi":0.11},
    {"p":8,"s":"PF 5000","x":3,"y":0.062,"lo":0.013,"hi":0.11},
    {"p":8,"s":"PF 5000","x":4,"y":0.065,"lo":0.013,"hi":0.115},
    {"p":8,"s":"PF 5000","x":5,"y":0.07,"lo":0.014,"hi":0.125},
    {"p":8,"s":"PF 5000","x":6,"y":0.072,"lo":0.015,"hi":0.13},
    {"p":8,"s":"PF 5000","x":7,"y":0.078,"lo":0.016,"hi":0.14},
    {"p":8,"s":"PF 5000","x":7.5,"y":0.08,"lo":0.016,"hi":0.15},
    {"p":8,"s":"PF 5000","x":8,"y":0.095,"lo":0.02,"hi":0.2},
    {"p":8,"s":"PF 5000","x":8.3,"y":0.1,"lo":0.02,"hi":0.18},
    {"p":8,"s":"PF 5000","x":8.6,"y":0.09,"lo":0.018,"hi":0.17},
    {"p":8,"s":"PF 5000","x":9,"y":0.085,"lo":0.017,"hi":0.15},
    {"p":8,"s":"PF 5000","x":9.5,"y":0.06,"lo":0.012,"hi":0.1},
    {"p":8,"s":"PF 5000","x":9.8,"y":0.055,"lo":0.011,"hi":0.16},
    {"p":8,"s":"PF 5000","x":10,"y":0.1,"lo":0.02,"hi":0.12},
    {"p":8,"s":"PF 50000","x":0,"y":0.01,"lo":0.002,"hi":0.03},
    {"p":8,"s":"PF 50000","x":1,"y":0.012,"lo":0.002,"hi":0.04},
    {"p":8,"s":"PF 50000","x":2,"y":0.015,"lo":0.003,"hi":0.045},
    {"p":8,"s":"PF 50000","x":2.5,"y":0.02,"lo":0.004,"hi":0.05},
    {"p":8,"s":"PF 50000","x":3,"y":0.02,"lo":0.004,"hi":0.05},
    {"p":8,"s":"PF 50000","x":5,"y":0.02,"lo":0.004,"hi":0.05},
    {"p":8,"s":"PF 50000","x":7,"y":0.022,"lo":0.004,"hi":0.055},
    {"p":8,"s":"PF 50000","x":8,"y":0.035,"lo":0.007,"hi":0.08},
    {"p":8,"s":"PF 50000","x":8.5,"y":0.03,"lo":0.006,"hi":0.07},
    {"p":8,"s":"PF 50000","x":9,"y":0.025,"lo":0.005,"hi":0.06},
    {"p":8,"s":"PF 50000","x":10,"y":0.03,"lo":0.006,"hi":0.06},
    {"p":8,"s":"IBIS","x":0,"y":0.02,"lo":0.004,"hi":0.045},
    {"p":8,"s":"IBIS","x":0.3,"y":0.03,"lo":0.006,"hi":0.06},
    {"p":8,"s":"IBIS","x":1,"y":0.03,"lo":0.006,"hi":0.06},
    {"p":8,"s":"IBIS","x":2,"y":0.03,"lo":0.006,"hi":0.06},
    {"p":8,"s":"IBIS","x":2.5,"y":0.045,"lo":0.009,"hi":0.07},
    {"p":8,"s":"IBIS","x":3,"y":0.035,"lo":0.007,"hi":0.065},
    {"p":8,"s":"IBIS","x":5,"y":0.035,"lo":0.007,"hi":0.065},
    {"p":8,"s":"IBIS","x":7,"y":0.038,"lo":0.008,"hi":0.07},
    {"p":8,"s":"IBIS","x":8,"y":0.06,"lo":0.012,"hi":0.09},
    {"p":8,"s":"IBIS","x":8.5,"y":0.05,"lo":0.01,"hi":0.08},
    {"p":8,"s":"IBIS","x":9,"y":0.04,"lo":0.008,"hi":0.07},
    {"p":8,"s":"IBIS","x":9.5,"y":0.03,"lo":0.006,"hi":0.06},
    {"p":8,"s":"IBIS","x":10,"y":0.025,"lo":0.005,"hi":0.05},
    {"p":8,"s":"SMC","x":0,"y":0.015,"lo":0.003,"hi":0.035},
    {"p":8,"s":"SMC","x":0.3,"y":0.02,"lo":0.004,"hi":0.04},
    {"p":8,"s":"SMC","x":1,"y":0.02,"lo":0.004,"hi":0.04},
    {"p":8,"s":"SMC","x":2,"y":0.02,"lo":0.004,"hi":0.045},
    {"p":8,"s":"SMC","x":2.5,"y":0.03,"lo":0.006,"hi":0.05},
    {"p":8,"s":"SMC","x":3,"y":0.025,"lo":0.005,"hi":0.05},
    {"p":8,"s":"SMC","x":5,"y":0.025,"lo":0.005,"hi":0.05},
    {"p":8,"s":"SMC","x":7,"y":0.03,"lo":0.006,"hi":0.055},
    {"p":8,"s":"SMC","x":8,"y":0.065,"lo":0.013,"hi":0.085},
    {"p":8,"s":"SMC","x":8.5,"y":0.055,"lo":0.011,"hi":0.08},
    {"p":8,"s":"SMC","x":9,"y":0.045,"lo":0.009,"hi":0.07},
    {"p":8,"s":"SMC","x":9.5,"y":0.03,"lo":0.006,"hi":0.055},
    {"p":8,"s":"SMC","x":10,"y":0.045,"lo":0.009,"hi":0.065}
  ]},
  "concat": [
    {
      "width": 152, "height": 85,
      "title": {"text": "μ̂", "subtitle": "\u2800a₀", "dx": 60},
      "transform": [{"filter": "datum.p == 1"}],
      "layer": [
        {"mark": {"type": "area", "opacity": 0.3},
         "encoding": {
           "x": {"field": "x", "type": "quantitative", "scale": {"domain": [0, 10], "nice": false}, "axis": {"values": [0, 5, 10], "title": "n"}},
           "y": {"field": "lo", "type": "quantitative", "scale": {"domain": [0, 0.025], "nice": false}, "axis": {"values": [0, 0.01, 0.02], "format": "~f", "title": "MAPE", "titleX": -56}},
           "y2": {"field": "hi"},
           "fill": {"field": "s", "type": "nominal", "title": null,
             "scale": {"domain": ["PF 5000", "PF 50000", "IBIS", "SMC"], "range": ["#3f62d4", "#ee5f08", "#f8ac3a", "#732391"]},
             "legend": {"orient": "none", "legendX": 193, "legendY": 367, "direction": "horizontal", "columns": 4,
               "symbolType": "M-1,-1H7.8V1H-1Z", "symbolSize": 256, "symbolOpacity": 0.3, "symbolStrokeWidth": 0,
               "labelFont": "Liberation Serif", "labelFontSize": 18, "labelColor": "#000000", "labelOffset": 60, "columnPadding": 14,
               "padding": 7, "strokeColor": "#333333", "fillColor": "#ffffff", "labelLimit": 300}}}},
        {"mark": {"type": "line", "strokeWidth": 1.5},
         "encoding": {
           "x": {"field": "x", "type": "quantitative", "scale": {"domain": [0, 10], "nice": false}, "axis": {"title": "×10⁶", "labels": false, "ticks": false, "orient": "bottom", "titleFont": "Liberation Sans", "titleFontSize": 16, "titleFontStyle": "normal", "titleAlign": "right", "titleX": 148, "titleY": 58}},
           "y": {"field": "y", "type": "quantitative", "scale": {"domain": [0, 0.025], "nice": false}, "axis": null},
           "stroke": {"field": "s", "type": "nominal", "legend": null, "scale": {"domain": ["PF 5000", "PF 50000", "IBIS", "SMC"], "range": ["#0072BD", "#D95319", "#EDB120", "#7E2F8E"]}}}}
      ],
      "resolve": {"scale": {"x": "independent", "y": "independent"}}
    },
    {
      "width": 152, "height": 85,
      "title": {"text": "μ̂", "subtitle": "\u2800ΔS", "dx": 57},
      "transform": [{"filter": "datum.p == 2"}],
      "layer": [
        {"mark": {"type": "area", "opacity": 0.3},
         "encoding": {
           "x": {"field": "x", "type": "quantitative", "scale": {"domain": [0, 10], "nice": false}, "axis": {"values": [0, 5, 10], "title": "n"}},
           "y": {"field": "lo", "type": "quantitative", "scale": {"domain": [0, 0.04], "nice": false}, "axis": {"values": [0, 0.02, 0.04], "format": "~f", "title": "MAPE", "titleX": -55}},
           "y2": {"field": "hi"},
           "fill": {"field": "s", "type": "nominal", "scale": {"domain": ["PF 5000", "PF 50000", "IBIS", "SMC"], "range": ["#3f62d4", "#ee5f08", "#f8ac3a", "#732391"]}}}},
        {"mark": {"type": "line", "strokeWidth": 1.5},
         "encoding": {
           "x": {"field": "x", "type": "quantitative", "scale": {"domain": [0, 10], "nice": false}, "axis": {"title": "×10⁶", "labels": false, "ticks": false, "orient": "bottom", "titleFont": "Liberation Sans", "titleFontSize": 16, "titleFontStyle": "normal", "titleAlign": "right", "titleX": 148, "titleY": 58}},
           "y": {"field": "y", "type": "quantitative", "scale": {"domain": [0, 0.04], "nice": false}, "axis": null},
           "stroke": {"field": "s", "type": "nominal", "legend": null, "scale": {"domain": ["PF 5000", "PF 50000", "IBIS", "SMC"], "range": ["#0072BD", "#D95319", "#EDB120", "#7E2F8E"]}}}}
      ],
      "resolve": {"scale": {"x": "independent", "y": "independent"}}
    },
    {
      "width": 152, "height": 85,
      "title": {"text": "μ̂", "subtitle": "\u2800Cₗₙ", "dx": 57, "offset": -24},
      "transform": [{"filter": "datum.p == 3"}],
      "layer": [
        {"mark": {"type": "area", "opacity": 0.3},
         "encoding": {
           "x": {"field": "x", "type": "quantitative", "scale": {"domain": [0, 10], "nice": false}, "axis": {"values": [0, 5, 10], "title": "n"}},
           "y": {"field": "lo", "type": "quantitative", "scale": {"domain": [0, 2.75], "nice": false}, "axis": {"values": [0, 1, 2], "format": "~f", "title": "MAPE", "titleX": -29}},
           "y2": {"field": "hi"},
           "fill": {"field": "s", "type": "nominal", "scale": {"domain": ["PF 5000", "PF 50000", "IBIS", "SMC"], "range": ["#3f62d4", "#ee5f08", "#f8ac3a", "#732391"]}}}},
        {"mark": {"type": "line", "strokeWidth": 1.5},
         "encoding": {
           "x": {"field": "x", "type": "quantitative", "scale": {"domain": [0, 10], "nice": false}, "axis": {"title": "×10⁶", "labels": false, "ticks": false, "orient": "bottom", "titleFont": "Liberation Sans", "titleFontSize": 16, "titleFontStyle": "normal", "titleAlign": "right", "titleX": 148, "titleY": 58}},
           "y": {"field": "y", "type": "quantitative", "scale": {"domain": [0, 2.75], "nice": false}, "axis": {"title": "×10⁻³", "labels": false, "ticks": false, "orient": "left", "titleFont": "Liberation Sans", "titleFontSize": 18, "titleAngle": 0, "titleAlign": "left", "titleX": 1, "titleY": -6}},
           "stroke": {"field": "s", "type": "nominal", "legend": null, "scale": {"domain": ["PF 5000", "PF 50000", "IBIS", "SMC"], "range": ["#0072BD", "#D95319", "#EDB120", "#7E2F8E"]}}}}
      ],
      "resolve": {"scale": {"x": "independent", "y": "independent"}}
    },
    {
      "width": 152, "height": 85,
      "title": {"text": "μ̂", "subtitle": "\u2800m", "dx": 61},
      "transform": [{"filter": "datum.p == 4"}],
      "layer": [
        {"mark": {"type": "area", "opacity": 0.3},
         "encoding": {
           "x": {"field": "x", "type": "quantitative", "scale": {"domain": [0, 10], "nice": false}, "axis": {"values": [0, 5, 10], "title": "n"}},
           "y": {"field": "lo", "type": "quantitative", "scale": {"domain": [0, 0.0107], "nice": false}, "axis": {"values": [0, 0.005, 0.01], "format": "~f", "title": "MAPE", "titleX": -68}},
           "y2": {"field": "hi"},
           "fill": {"field": "s", "type": "nominal", "scale": {"domain": ["PF 5000", "PF 50000", "IBIS", "SMC"], "range": ["#3f62d4", "#ee5f08", "#f8ac3a", "#732391"]}}}},
        {"mark": {"type": "line", "strokeWidth": 1.5},
         "encoding": {
           "x": {"field": "x", "type": "quantitative", "scale": {"domain": [0, 10], "nice": false}, "axis": {"title": "×10⁶", "labels": false, "ticks": false, "orient": "bottom", "titleFont": "Liberation Sans", "titleFontSize": 16, "titleFontStyle": "normal", "titleAlign": "right", "titleX": 148, "titleY": 58}},
           "y": {"field": "y", "type": "quantitative", "scale": {"domain": [0, 0.0107], "nice": false}, "axis": null},
           "stroke": {"field": "s", "type": "nominal", "legend": null, "scale": {"domain": ["PF 5000", "PF 50000", "IBIS", "SMC"], "range": ["#0072BD", "#D95319", "#EDB120", "#7E2F8E"]}}}}
      ],
      "resolve": {"scale": {"x": "independent", "y": "independent"}}
    },
    {
      "width": 152, "height": 85,
      "title": {"text": "σ̂", "subtitle": "\u2800a₀", "dx": 60},
      "transform": [{"filter": "datum.p == 5"}],
      "layer": [
        {"mark": {"type": "area", "opacity": 0.3},
         "encoding": {
           "x": {"field": "x", "type": "quantitative", "scale": {"domain": [0, 10], "nice": false}, "axis": {"values": [0, 5, 10], "title": "n"}},
           "y": {"field": "lo", "type": "quantitative", "scale": {"domain": [0, 0.2], "nice": false}, "axis": {"values": [0, 0.1, 0.2], "format": "~f", "title": "MAPE", "titleX": -45}},
           "y2": {"field": "hi"},
           "fill": {"field": "s", "type": "nominal", "scale": {"domain": ["PF 5000", "PF 50000", "IBIS", "SMC"], "range": ["#3f62d4", "#ee5f08", "#f8ac3a", "#732391"]}}}},
        {"mark": {"type": "line", "strokeWidth": 1.5},
         "encoding": {
           "x": {"field": "x", "type": "quantitative", "scale": {"domain": [0, 10], "nice": false}, "axis": {"title": "×10⁶", "labels": false, "ticks": false, "orient": "bottom", "titleFont": "Liberation Sans", "titleFontSize": 16, "titleFontStyle": "normal", "titleAlign": "right", "titleX": 148, "titleY": 58}},
           "y": {"field": "y", "type": "quantitative", "scale": {"domain": [0, 0.2], "nice": false}, "axis": null},
           "stroke": {"field": "s", "type": "nominal", "legend": null, "scale": {"domain": ["PF 5000", "PF 50000", "IBIS", "SMC"], "range": ["#0072BD", "#D95319", "#EDB120", "#7E2F8E"]}}}}
      ],
      "resolve": {"scale": {"x": "independent", "y": "independent"}}
    },
    {
      "width": 152, "height": 85,
      "title": {"text": "σ̂", "subtitle": "\u2800ΔS", "dx": 57},
      "transform": [{"filter": "datum.p == 6"}],
      "layer": [
        {"mark": {"type": "area", "opacity": 0.3},
         "encoding": {
           "x": {"field": "x", "type": "quantitative", "scale": {"domain": [0, 10], "nice": false}, "axis": {"values": [0, 5, 10], "title": "n"}},
           "y": {"field": "lo", "type": "quantitative", "scale": {"domain": [0, 0.2], "nice": false}, "axis": {"values": [0, 0.1, 0.2], "format": "~f", "title": "MAPE", "titleX": -44}},
           "y2": {"field": "hi"},
           "fill": {"field": "s", "type": "nominal", "scale": {"domain": ["PF 5000", "PF 50000", "IBIS", "SMC"], "range": ["#3f62d4", "#ee5f08", "#f8ac3a", "#732391"]}}}},
        {"mark": {"type": "line", "strokeWidth": 1.5},
         "encoding": {
           "x": {"field": "x", "type": "quantitative", "scale": {"domain": [0, 10], "nice": false}, "axis": {"title": "×10⁶", "labels": false, "ticks": false, "orient": "bottom", "titleFont": "Liberation Sans", "titleFontSize": 16, "titleFontStyle": "normal", "titleAlign": "right", "titleX": 148, "titleY": 58}},
           "y": {"field": "y", "type": "quantitative", "scale": {"domain": [0, 0.2], "nice": false}, "axis": null},
           "stroke": {"field": "s", "type": "nominal", "legend": null, "scale": {"domain": ["PF 5000", "PF 50000", "IBIS", "SMC"], "range": ["#0072BD", "#D95319", "#EDB120", "#7E2F8E"]}}}}
      ],
      "resolve": {"scale": {"x": "independent", "y": "independent"}}
    },
    {
      "width": 152, "height": 85,
      "title": {"text": "σ̂", "subtitle": "\u2800Cₗₙ", "dx": 59},
      "transform": [{"filter": "datum.p == 7"}],
      "layer": [
        {"mark": {"type": "area", "opacity": 0.3},
         "encoding": {
           "x": {"field": "x", "type": "quantitative", "scale": {"domain": [0, 10], "nice": false}, "axis": {"values": [0, 5, 10], "title": "n"}},
           "y": {"field": "lo", "type": "quantitative", "scale": {"domain": [0, 0.2], "nice": false}, "axis": {"values": [0, 0.1, 0.2], "format": "~f", "title": "MAPE", "titleX": -44}},
           "y2": {"field": "hi"},
           "fill": {"field": "s", "type": "nominal", "scale": {"domain": ["PF 5000", "PF 50000", "IBIS", "SMC"], "range": ["#3f62d4", "#ee5f08", "#f8ac3a", "#732391"]}}}},
        {"mark": {"type": "line", "strokeWidth": 1.5},
         "encoding": {
           "x": {"field": "x", "type": "quantitative", "scale": {"domain": [0, 10], "nice": false}, "axis": {"title": "×10⁶", "labels": false, "ticks": false, "orient": "bottom", "titleFont": "Liberation Sans", "titleFontSize": 16, "titleFontStyle": "normal", "titleAlign": "right", "titleX": 148, "titleY": 58}},
           "y": {"field": "y", "type": "quantitative", "scale": {"domain": [0, 0.2], "nice": false}, "axis": null},
           "stroke": {"field": "s", "type": "nominal", "legend": null, "scale": {"domain": ["PF 5000", "PF 50000", "IBIS", "SMC"], "range": ["#0072BD", "#D95319", "#EDB120", "#7E2F8E"]}}}}
      ],
      "resolve": {"scale": {"x": "independent", "y": "independent"}}
    },
    {
      "width": 152, "height": 85,
      "title": {"text": "σ̂", "subtitle": "\u2800m", "dx": 62},
      "transform": [{"filter": "datum.p == 8"}],
      "layer": [
        {"mark": {"type": "area", "opacity": 0.3},
         "encoding": {
           "x": {"field": "x", "type": "quantitative", "scale": {"domain": [0, 10], "nice": false}, "axis": {"values": [0, 5, 10], "title": "n"}},
           "y": {"field": "lo", "type": "quantitative", "scale": {"domain": [0, 0.207], "nice": false}, "axis": {"values": [0, 0.1, 0.2], "format": "~f", "title": "MAPE", "titleX": -44}},
           "y2": {"field": "hi"},
           "fill": {"field": "s", "type": "nominal", "scale": {"domain": ["PF 5000", "PF 50000", "IBIS", "SMC"], "range": ["#3f62d4", "#ee5f08", "#f8ac3a", "#732391"]}}}},
        {"mark": {"type": "line", "strokeWidth": 1.5},
         "encoding": {
           "x": {"field": "x", "type": "quantitative", "scale": {"domain": [0, 10], "nice": false}, "axis": {"title": "×10⁶", "labels": false, "ticks": false, "orient": "bottom", "titleFont": "Liberation Sans", "titleFontSize": 16, "titleFontStyle": "normal", "titleAlign": "right", "titleX": 148, "titleY": 58}},
           "y": {"field": "y", "type": "quantitative", "scale": {"domain": [0, 0.207], "nice": false}, "axis": null},
           "stroke": {"field": "s", "type": "nominal", "legend": null, "scale": {"domain": ["PF 5000", "PF 50000", "IBIS", "SMC"], "range": ["#0072BD", "#D95319", "#EDB120", "#7E2F8E"]}}}}
      ],
      "resolve": {"scale": {"x": "independent", "y": "independent"}}
    }
  ],
  "config": {
    "view": {"stroke": "#333333", "strokeWidth": 2},
    "font": "Liberation Sans",
    "axis": {
      "grid": false, "domain": false,
      "labelFont": "Liberation Sans", "labelFontSize": 14, "labelColor": "#262626",
      "tickColor": "#262626", "tickSize": -3, "tickWidth": 1, "labelPadding": 8,
      "titleFont": "Liberation Serif", "titleFontSize": 23, "titleFontWeight": "normal", "titleColor": "#262626"
    },
    "axisY": {"titleY": 42, "titleBaseline": "alphabetic", "titleAlign": "center", "labelPadding": 8},
    "axisX": {"titleFontStyle": "italic", "titleFontSize": 22, "titleY": 50, "titleBaseline": "alphabetic", "labelPadding": 11},
    "title": {
      "anchor": "start", "frame": "group", "font": "DejaVu Serif", "fontStyle": "italic", "fontSize": 18, "fontWeight": "normal", "color": "#000000",
      "subtitleFont": "DejaVu Serif", "subtitleFontStyle": "italic", "subtitleFontSize": 13, "subtitleColor": "#000000", "subtitlePadding": -10, "offset": -1
    }
  },
  "resolve": {"scale": {"fill": "shared", "stroke": "shared"}}
}
